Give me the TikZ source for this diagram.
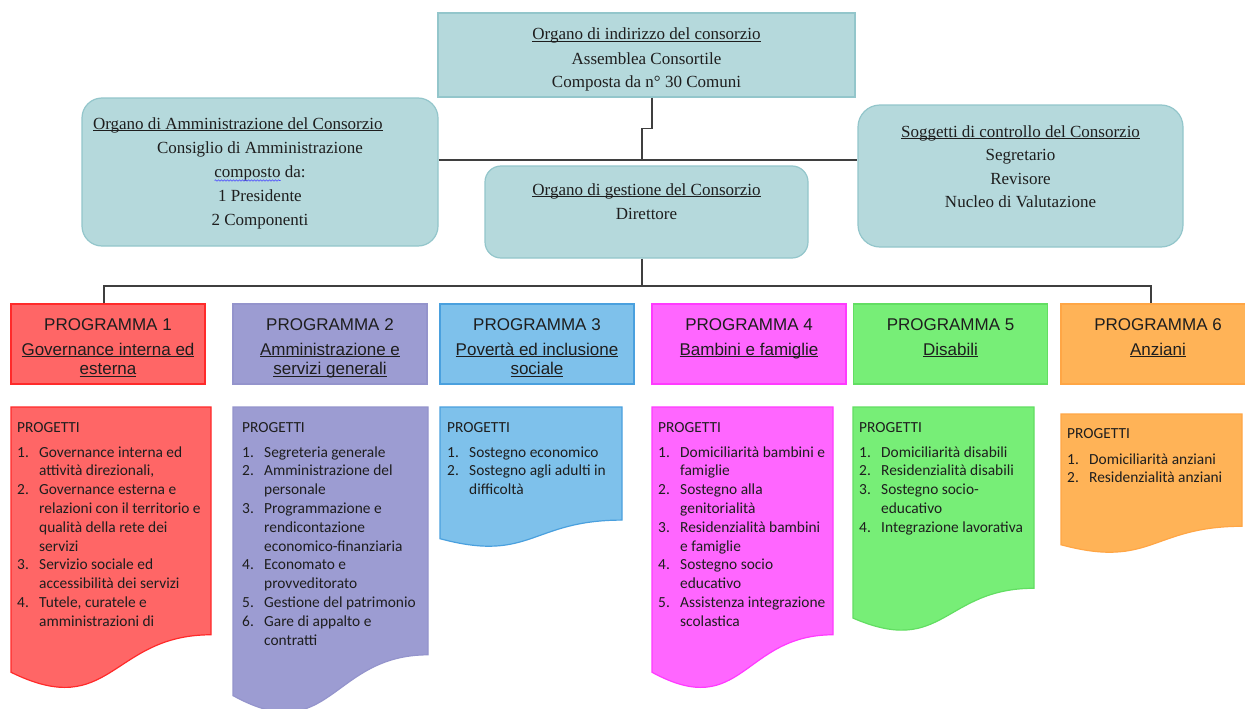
\documentclass[tikz,border=0pt]{standalone}
\usepackage{fontspec}
\setmainfont{Liberation Serif}
\newfontfamily\hdrfont{Liberation Sans}
\newfontfamily\listfont{Carlito}
\usetikzlibrary{decorations.pathmorphing}
\definecolor{tealfill}{HTML}{B5D9DC}
\definecolor{tealline}{HTML}{93C6CB}
\definecolor{connc}{HTML}{3F3F3F}
\definecolor{txtc}{HTML}{1E1E1E}
\definecolor{rfill}{HTML}{FF6666}\definecolor{rline}{HTML}{FF2A2A}
\definecolor{vfill}{HTML}{9C9CD2}\definecolor{vline}{HTML}{9494CC}
\definecolor{bfill}{HTML}{7EC1EB}\definecolor{bline}{HTML}{4AA0DE}
\definecolor{mfill}{HTML}{FF66FF}\definecolor{mline}{HTML}{FF3AFF}
\definecolor{gfill}{HTML}{77EE77}\definecolor{gline}{HTML}{62DE62}
\definecolor{ofill}{HTML}{FFB357}\definecolor{oline}{HTML}{FFA645}
\newcommand\ulx[1]{\leavevmode\setbox0=\hbox{#1}\rlap{\rule[-2.2pt]{\wd0}{0.8pt}}\box0}
\newcommand\docshp[5]{\path[#5] (#1,#2) -- ({#1+#3},#2) -- ({#1+#3},{#2+0.802*#4}) .. controls ({#1+0.5*#3},{#2+0.802*#4}) and ({#1+0.5*#3},{#2+1.1075*#4}) .. (#1,{#2+0.934*#4}) -- cycle;}
\tikzset{
  tealbox/.style={draw=tealline, fill=tealfill, line width=1.2pt, inner sep=0pt, text=txtc},
  conn/.style={draw=connc, line width=1.4pt},
  hdr/.style={inner sep=0pt, line width=1.2pt, text=txtc},
  listtxt/.style={anchor=base west, inner sep=0pt, text=txtc, font=\listfont\fontsize{15.4}{18.8}\selectfont},
}
\newcommand\hdrtext[2]{\parbox[c][80pt][t]{194pt}{\centering\hdrfont\fontsize{17}{19.5}\selectfont\rule{0pt}{26pt}#1\\[5.5pt]#2\par}}
\begin{document}
\begin{tikzpicture}[x=1pt,y=-1pt]
\useasboundingbox (0,0) rectangle (1245,709);
\clip (0,0) rectangle (1245,709);
\fill[white] (0,0) rectangle (1245,709);

% coordinates for connectors
\coordinate (hub) at (642,160);
\coordinate (bus) at (642,286);
\coordinate (busL) at (104,286);
\coordinate (busR) at (1151,286);

% top boxes
\node[tealbox] (assem) at (646.5,55) {\parbox[c][84pt][t]{417pt}{\centering\fontsize{17}{24}\selectfont\rule{0pt}{27pt}\ulx{Organo di indirizzo del consorzio}\\Assemblea Consortile\\Composta da n° 30 Comuni\par}};

\draw[conn] ([xshift=5.5pt]assem.south) -- ++(0,31) -| (hub);

\node[tealbox, rounded corners=20pt] (amm) at (260,172) {\parbox[c][148pt][t]{356pt}{\fontsize{17}{24}\selectfont\rule{0pt}{31pt}\hspace*{11pt}\ulx{Organo di Amministrazione del Consorzio}\par\centering Consiglio di Amministrazione\\composto da:\\1 Presidente\\2 Componenti\par}};

\node[tealbox, rounded corners=22pt] (ctrl) at (1020.5,176) {\parbox[c][142pt][t]{325pt}{\centering\fontsize{17}{23.5}\selectfont\rule{0pt}{32pt}\ulx{Soggetti di controllo del Consorzio}\\Segretario\\Revisore\\Nucleo di Valutazione\par}};

\draw[conn] (amm.east |- hub) -- (ctrl.west |- hub);

\node[tealbox, rounded corners=16pt] (gest) at (646.5,212) {\parbox[c][92pt][t]{323pt}{\centering\fontsize{17}{24}\selectfont\rule{0pt}{29pt}\ulx{Organo di gestione del Consorzio}\\Direttore\par}};

% spell-check squiggle under "composto"
\draw[draw=blue!70, line width=0.6pt, decorate, decoration={snake, amplitude=0.7pt, segment length=3pt}] (214.5,180.5) -- (280.5,180.5);

% bus
\draw[conn] (gest.south -| bus) -- (bus);

% program headers
\node[hdr, draw=rline, fill=rfill] (p1) at (108,344) {\hdrtext{PROGRAMMA 1}{\ulx{Governance interna ed}\\\ulx{esterna}}};
\node[hdr, draw=vline, fill=vfill] (p2) at (330,344) {\hdrtext{PROGRAMMA 2}{\ulx{Amministrazione e}\\\ulx{servizi generali}}};
\node[hdr, draw=bline, fill=bfill] (p3) at (537,344) {\hdrtext{PROGRAMMA 3}{\ulx{Povertà ed inclusione}\\\ulx{sociale}}};
\node[hdr, draw=mline, fill=mfill] (p4) at (749,344) {\hdrtext{PROGRAMMA 4}{\ulx{Bambini e famiglie}}};
\node[hdr, draw=gline, fill=gfill] (p5) at (950.5,344) {\hdrtext{PROGRAMMA 5}{\ulx{Disabili}}};
\node[hdr, draw=oline, fill=ofill] (p6) at (1158,344) {\hdrtext{PROGRAMMA 6}{\ulx{Anziani}}};

\draw[conn] (p1.north -| busL) -- (busL) -- (busR) -- (p6.north -| busR);

% project documents
\docshp{11}{407}{200}{284}{fill=rfill, draw=rline, line width=1.2pt}
\docshp{233}{407}{195}{309}{fill=vfill, draw=vline, line width=1.2pt}
\docshp{440}{407}{182}{141}{fill=bfill, draw=bline, line width=1.2pt}
\docshp{652}{407}{181}{284}{fill=mfill, draw=mline, line width=1.2pt}
\docshp{853}{407}{181}{226}{fill=gfill, draw=gline, line width=1.2pt}
\docshp{1061}{414}{181}{140}{fill=ofill, draw=oline, line width=1.2pt}

% project texts
\node[listtxt] (g1) at (17,432) {PROGETTI};
\node[listtxt] (l1) at (17,457) {\begin{tabular}[t]{@{}p{22pt}@{}l@{}}
1. & Governance interna ed\\ & attività direzionali,\\
2. & Governance esterna e\\ & relazioni con il territorio e\\ & qualità della rete dei\\ & servizi\\
3. & Servizio sociale ed\\ & accessibilità dei servizi\\
4. & Tutele, curatele e\\ & amministrazioni di
\end{tabular}};

\node[listtxt] (g2) at (242,432) {PROGETTI};
\node[listtxt] (l2) at (242,457) {\begin{tabular}[t]{@{}p{22pt}@{}l@{}}
1. & Segreteria generale\\
2. & Amministrazione del\\ & personale\\
3. & Programmazione e\\ & rendicontazione\\ & economico-finanziaria\\
4. & Economato e\\ & provveditorato\\
5. & Gestione del patrimonio\\
6. & Gare di appalto e\\ & contratti
\end{tabular}};

\node[listtxt] (g3) at (447,432) {PROGETTI};
\node[listtxt] (l3) at (447,457) {\begin{tabular}[t]{@{}p{22pt}@{}l@{}}
1. & Sostegno economico\\
2. & Sostegno agli adulti in\\ & difficoltà
\end{tabular}};

\node[listtxt] (g4) at (658,432) {PROGETTI};
\node[listtxt] (l4) at (658,457) {\begin{tabular}[t]{@{}p{22pt}@{}l@{}}
1. & Domiciliarità bambini e\\ & famiglie\\
2. & Sostegno alla\\ & genitorialità\\
3. & Residenzialità bambini\\ & e famiglie\\
4. & Sostegno socio\\ & educativo\\
5. & Assistenza integrazione\\ & scolastica
\end{tabular}};

\node[listtxt] (g5) at (859,432) {PROGETTI};
\node[listtxt] (l5) at (859,457) {\begin{tabular}[t]{@{}p{22pt}@{}l@{}}
1. & Domiciliarità disabili\\
2. & Residenzialità disabili\\
3. & Sostegno socio-\\ & educativo\\
4. & Integrazione lavorativa
\end{tabular}};

\node[listtxt] (g6) at (1067,438) {PROGETTI};
\node[listtxt] (l6) at (1067,464) {\begin{tabular}[t]{@{}p{22pt}@{}l@{}}
1. & Domiciliarità anziani\\
2. & Residenzialità anziani
\end{tabular}};
\end{tikzpicture}
\end{document}
